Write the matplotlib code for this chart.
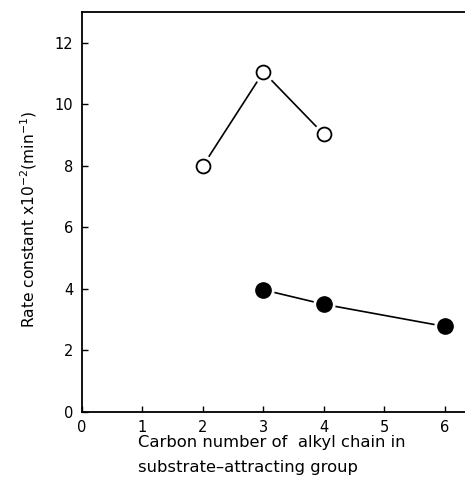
import matplotlib
matplotlib.use("Agg")
import matplotlib.pyplot as plt

# Data
open_x = [2, 3, 4]
open_y = [8.0, 11.05, 9.02]
filled_x = [3, 4, 6]
filled_y = [3.97, 3.5, 2.78]

x_ticks = [0, 1, 2, 3, 4, 5, 6]
y_ticks = [0, 2, 4, 6, 8, 10, 12]

fig = plt.figure(figsize=(4.65, 4.78), dpi=100)
ax = fig.add_axes([0.176, 0.138, 0.824, 0.837])

# lines first, then a white halo under each marker so lines stop short of it
ax.plot(open_x, open_y, color="black", lw=1.2, zorder=1)
ax.plot(filled_x, filled_y, color="black", lw=1.2, zorder=1)
ax.plot(open_x, open_y, "o", ms=15, color="white", zorder=2)
ax.plot(filled_x, filled_y, "o", ms=15, color="white", zorder=2)
ax.plot(open_x, open_y, "o", ms=10, mfc="white", mec="black", mew=1.3, zorder=3)
ax.plot(filled_x, filled_y, "o", ms=11, mfc="black", mec="black", zorder=3)

ax.set_xlim(0, 6.33)
ax.set_ylim(0, 13)
ax.set_xticks(x_ticks)
ax.set_yticks(y_ticks)
ax.tick_params(direction="in", length=4, width=1, labelsize=10.5, pad=6)
ax.spines["right"].set_visible(False)
for s in ["left", "bottom", "top"]:
    ax.spines[s].set_linewidth(1.3)

fig.text(0.062, 0.54, "Rate constant x10$^{-2}$(min$^{-1}$)", fontsize=11.2,
         rotation=90, ha="center", va="center")
fig.text(0.297, 0.075, "Carbon number of  alkyl chain in", fontsize=11.8, ha="left", va="center")
fig.text(0.297, 0.022, "substrate\u2013attracting group", fontsize=11.8, ha="left", va="center")

fig.savefig("out.png", dpi=100)
